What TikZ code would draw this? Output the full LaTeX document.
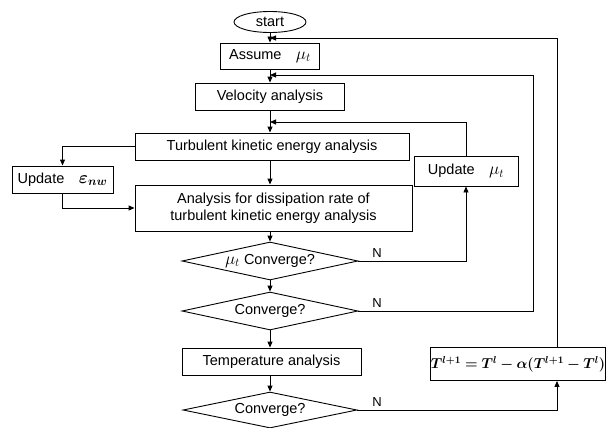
\documentclass[tikz,border=0pt]{standalone}
\usepackage{fontspec}
\usepackage{bm}
\setmainfont{Liberation Sans}
\usetikzlibrary{shapes.geometric,arrows.meta}
\newcommand{\mymu}{{\fontsize{18}{18}\selectfont$\mu_t$}}
\begin{document}
\begin{tikzpicture}[x=1pt,y=-1pt,
  font=\fontsize{14.5}{17}\selectfont, line width=0.9pt,
  box/.style={draw, rectangle, inner sep=0pt, align=center},
  dia/.style={draw, diamond, inner sep=0pt},
  arr/.style={-{Triangle[length=6pt,width=5pt]}},
  lab/.style={font=\fontsize{13}{13}\selectfont, inner sep=0pt}]
\useasboundingbox (0,0) rectangle (610,428);

\node[draw, ellipse, minimum width=72pt, minimum height=21pt, inner sep=0pt] (start) at (270,22) {start};
\node[box, minimum width=99pt, minimum height=26pt] (assume) at (270,56) {Assume\quad\mymu};
\node[box, minimum width=149pt, minimum height=27pt] (velocity) at (270,96.5) {Velocity analysis};
\node[box, minimum width=274pt, minimum height=27pt] (turb) at (272,146.5) {Turbulent kinetic energy analysis};
\node[box, minimum width=277pt, minimum height=46pt] (anal) at (273.5,208) {Analysis for dissipation rate of\\turbulent kinetic energy analysis};
\node[box, minimum width=101pt, minimum height=27pt] (updeps) at (62.5,179.5) {Update\quad{\fontsize{18}{18}\selectfont$\bm{\varepsilon_{nw}}$}};
\node[box, minimum width=104pt, minimum height=30pt] (updmu) at (466,171) {Update\quad\mymu};
\node[dia, minimum width=176pt, minimum height=38pt] (d1) at (270,261) {\makebox[0pt]{\mymu\ Converge?}};
\node[dia, minimum width=176pt, minimum height=38pt] (d2) at (270,311) {\makebox[0pt]{Converge?}};
\node[box, minimum width=179pt, minimum height=27pt] (temp) at (271.5,361.5) {Temperature analysis};
\node[dia, minimum width=174pt, minimum height=36pt] (d3) at (270,410) {\makebox[0pt]{Converge?}};
\node[box, minimum width=173pt, minimum height=33pt] (tbox) at (518,364)
  {\fontsize{14.5}{14.5}\selectfont$\bm{T^{l+1}=T^{l}-\alpha(T^{l+1}-T^{l})}$};

\coordinate (m1) at (270,38);
\coordinate (m2) at (270,75);
\coordinate (m3) at (270,122);
\coordinate (c2) at (533,311);

% main column
\draw[arr] (start.south) -- (assume.north);
\draw[arr] (assume.south) -- (velocity.north);
\draw[arr] (velocity.south) -- (velocity.south |- turb.north);
\draw[arr] (velocity.south |- turb.south) -- (velocity.south |- anal.north);
\draw[arr] (velocity.south |- anal.south) -- (d1.north);
\draw[arr] (d1.south) -- (d2.north);
\draw[arr] (d2.south) -- (d2.south |- temp.north);
\draw[arr] (d2.south |- temp.south) -- (d3.north);

% side loops
\draw[arr] (turb.west) -| (updeps.north);
\draw[arr] (updeps.south) |- (anal.west);
\draw[arr] (d1.east) -| (updmu.south);
\draw[arr] (updmu.north) |- (m3);
\draw[arr] (d2.east) -- (c2) |- (m2);
\draw[arr] (d3.east) -| ([xshift=39pt]tbox.south);
\draw[arr] ([xshift=39pt]tbox.north) |- (m1);

\node[lab] (n1) at (377,253) {N};
\node[lab] (n2) at (377,303) {N};
\node[lab] (n3) at (377,402) {N};
\end{tikzpicture}
\end{document}
